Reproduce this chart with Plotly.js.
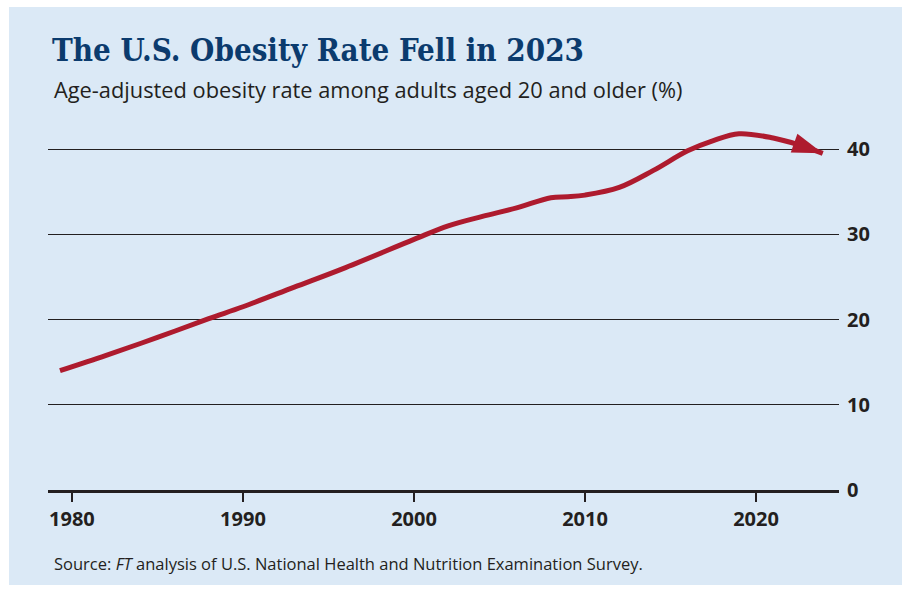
<!DOCTYPE html>
<html>
<head>
<meta charset="utf-8">
<script src="https://cdn.plot.ly/plotly-3.0.1.min.js"></script>
<style>
  html, body { margin: 0; padding: 0; background: #ffffff; }
  #chart { position: absolute; left: 9px; top: 7px; width: 893px; height: 578px; }
</style>
</head>
<body>
<div id="chart"></div>
<script>
// Values (smoothed curve)
const years = [1979.3, 1982, 1985, 1988, 1990, 1993, 1996, 2000, 2002, 2004, 2006, 2008, 2009, 2010, 2012, 2014, 2016, 2017.5, 2019, 2021, 2022.5, 2023.9];
const rates = [14.0, 15.8, 17.9, 20.1, 21.5, 23.8, 26.1, 29.4, 31.0, 32.1, 33.1, 34.3, 34.4, 34.6, 35.5, 37.5, 39.8, 41.0, 41.8, 41.3, 40.5, 39.5];
const xTickVals = [1980, 1990, 2000, 2010, 2020];
const xTickText = ['1980', '1990', '2000', '2010', '2020'];
const yTickVals = [0, 10, 20, 30, 40];
const yTickText = ['0', '10', '20', '30', '40'];

const titleText = 'The U.S. Obesity Rate Fell in 2023';
const subtitleText = 'Age-adjusted obesity rate among adults aged 20 and older (%)';
const sourceText = 'Source: <i>FT</i> analysis of U.S. National Health and Nutrition Examination Survey.';

const ink = '#231f20';
const red = '#ae1b2e';
const panel = '#dbe9f6';
const sans = '"Open Sans", "Noto Sans", sans-serif';

const n = years.length;

const lineTrace = {
  x: years,
  y: rates,
  type: 'scatter',
  mode: 'lines',
  line: { color: red, width: 5, shape: 'spline', smoothing: 1 },
  hoverinfo: 'skip'
};

const arrowTrace = {
  x: years.slice(n - 2),
  y: rates.slice(n - 2),
  type: 'scatter',
  mode: 'markers',
  marker: { symbol: 'arrow', angleref: 'previous', size: [0, 32], color: red, opacity: 1, line: { width: 0 } },
  hoverinfo: 'skip'
};

const layout = {
  width: 893,
  height: 578,
  margin: { l: 39, r: 63, t: 108, b: 95 },
  paper_bgcolor: panel,
  plot_bgcolor: panel,
  showlegend: false,
  title: {
    text: '<b>' + titleText + '</b>',
    font: { family: '"DejaVu Serif Condensed", "DejaVu Serif", serif', size: 31, color: '#0b3b6e' },
    xref: 'container', x: 43 / 893, xanchor: 'left',
    yref: 'container', y: 1 - 43 / 578, yanchor: 'middle'
  },
  xaxis: {
    range: [1978.6, 2024.85],
    tickvals: xTickVals,
    ticktext: xTickText,
    showgrid: false,
    zeroline: false,
    showline: true,
    linecolor: ink,
    linewidth: 2.5,
    ticks: 'outside',
    ticklen: 9,
    tickwidth: 2,
    tickcolor: ink,
    tickfont: { family: sans, size: 20, color: ink, weight: 700 },
    fixedrange: true
  },
  yaxis: {
    range: [0, 44],
    side: 'right',
    tickvals: yTickVals,
    ticktext: yTickText,
    showgrid: true,
    gridcolor: ink,
    gridwidth: 1,
    zeroline: false,
    showline: false,
    ticks: '',
    ticklabelstandoff: 7,
    tickfont: { family: sans, size: 20, color: ink, weight: 700 },
    fixedrange: true
  },
  annotations: [
    {
      text: subtitleText,
      xref: 'paper', yref: 'paper',
      x: 0.005, y: 1.069, xanchor: 'left', yanchor: 'middle',
      showarrow: false,
      font: { family: sans, size: 21.8, color: ink }
    },
    {
      text: sourceText,
      xref: 'paper', yref: 'paper',
      x: 0.005, y: -0.195, xanchor: 'left', yanchor: 'middle',
      showarrow: false,
      font: { family: sans, size: 16.5, color: ink }
    }
  ]
};

Plotly.newPlot('chart', [lineTrace, arrowTrace], layout, { displayModeBar: false, staticPlot: true });
</script>
</body>
</html>
